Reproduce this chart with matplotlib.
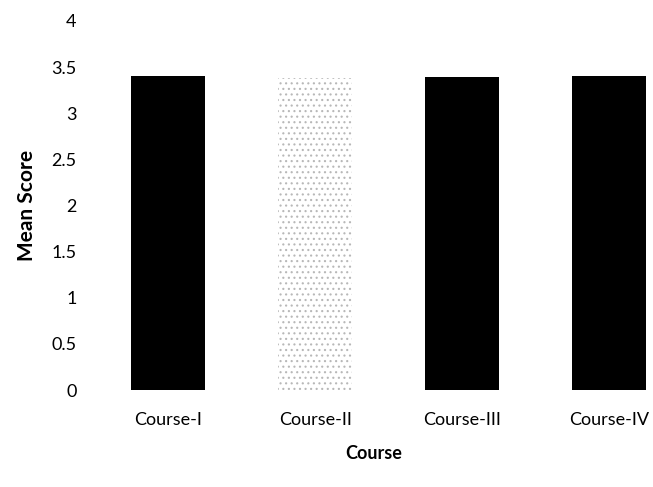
import matplotlib
matplotlib.use("Agg")
import matplotlib.pyplot as plt
import numpy as np

courses = ["Course-I", "Course-II", "Course-III", "Course-IV"]
mean_scores = [3.40, 3.38, 3.39, 3.40]
bar_colors = ["black", "white", "black", "black"]
y_ticks = [0, 0.5, 1, 1.5, 2, 2.5, 3, 3.5, 4]
y_tick_labels = ["0", "0.5", "1", "1.5", "2", "2.5", "3", "3.5", "4"]

plt.rcParams["font.family"] = ["Lato", "DejaVu Sans"]
plt.rcParams["hatch.color"] = "#b8b8b8"
plt.rcParams["hatch.linewidth"] = 0.8

fig = plt.figure(figsize=(6.53, 4.87), dpi=100)
ax = fig.add_axes([0.145, 0.199, 0.855, 0.758])

x = np.arange(len(courses))
bars = ax.bar(x, mean_scores, 0.5, color=bar_colors, linewidth=0)
# the second bar is faded in the scan: light stipple
bars[1].set_hatch("...")

ax.set_xlim(-0.5, 3.3)
ax.set_ylim(0, 4)
ax.set_yticks(y_ticks)
ax.set_yticklabels(y_tick_labels, fontsize=13)
ax.set_xticks(x)
ax.set_xticklabels(courses, fontsize=13)
ax.tick_params(axis="both", length=0)
ax.tick_params(axis="y", pad=13)
ax.tick_params(axis="x", pad=16)
for s in ax.spines.values():
    s.set_visible(False)

ax.set_ylabel("Mean Score", fontsize=15, fontweight="bold", labelpad=10)
ax.set_xlabel("Course", fontsize=13, fontweight="bold", labelpad=12)

fig.savefig("out.png", dpi=100)
